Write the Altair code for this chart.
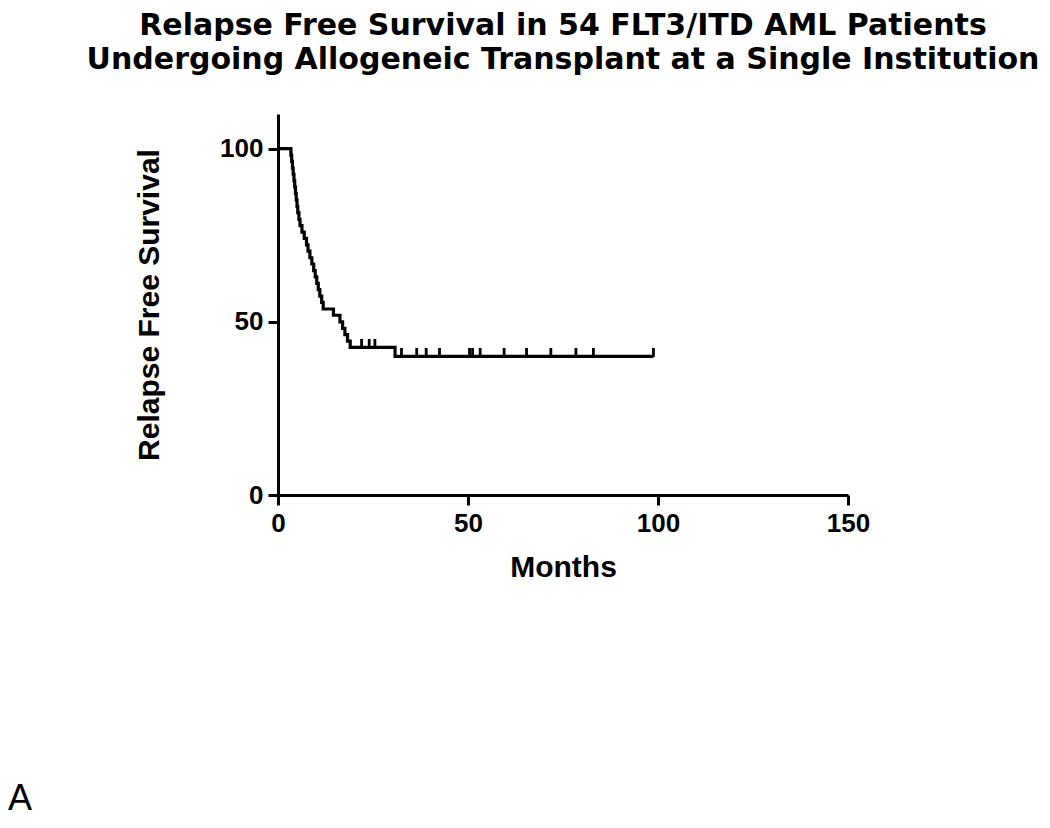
import altair as alt
import pandas as pd

# Kaplan-Meier step curve (months, relapse free survival %)
months = [0, 3.4, 3.6, 3.8, 4.0, 4.2, 4.4, 4.6, 4.8, 5.0, 5.2, 5.5, 5.8, 6.3, 6.9, 7.5,
          7.9, 8.4, 8.9, 9.4, 9.8, 10.2, 10.6, 11.0, 11.5, 11.9, 14.6, 16.3, 17.0, 17.6,
          18.3, 19.0, 30.8, 98.8]
survival = [100, 98.1, 96.3, 94.4, 92.6, 90.7, 88.9, 87.0, 85.2, 83.3, 81.5, 79.6, 77.8,
            75.9, 74.1, 72.2, 70.4, 68.5, 66.7, 64.8, 63.0, 61.1, 59.3, 57.4, 55.6, 53.7,
            51.9, 50.0, 48.1, 46.3, 44.4, 42.6, 40.0, 40.0]

# Censored observations
censor_months = [22, 24, 25.5, 32.5, 36.5, 39, 42.5, 50.4, 51.2, 53.2, 59.5, 65.4,
                 71.8, 78.4, 83, 98.8]
censor_surv = [42.6, 42.6, 42.6, 40, 40, 40, 40, 40, 40, 40, 40, 40, 40, 40, 40, 40]

x_ticks = [0, 50, 100, 150]
y_ticks = [0, 50, 100]
panel_label = ["A"]

curve = pd.DataFrame({"Months": months, "RFS": survival})
cens = pd.DataFrame({"Months": censor_months, "RFS": censor_surv})
lab = pd.DataFrame({"label": panel_label})

x_enc = alt.X("Months:Q", scale=alt.Scale(domain=[0, 150], nice=False),
              axis=alt.Axis(values=x_ticks, title="Months", titlePadding=16, labelPadding=5,
                            labelFlush=False))
y_enc = alt.Y("RFS:Q", scale=alt.Scale(domain=[0, 110], nice=False),
              axis=alt.Axis(values=y_ticks, title="Relapse Free Survival", titlePadding=55,
                            labelPadding=5, labelFlush=False))

line = alt.Chart(curve).mark_line(interpolate="step-after", color="black",
                                  strokeWidth=3.2).encode(x=x_enc, y=y_enc)

ticks = alt.Chart(cens).mark_tick(orient="vertical", color="black", size=9,
                                  thickness=2.8, yOffset=-4, opacity=1).encode(
    x="Months:Q", y="RFS:Q")

a_text = alt.Chart(lab).mark_text(font="Liberation Sans", fontSize=36, color="black",
                                  align="left", baseline="alphabetic").encode(
    x=alt.value(-270), y=alt.value(696), text="label:N")

chart = alt.layer(line, ticks, a_text).properties(
    width=570, height=381,
    autosize=alt.AutoSizeParams(type="none"),
    padding={"left": 270, "top": 106, "right": 190, "bottom": 325},
    title=alt.TitleParams(
        text=["Relapse Free Survival in 54 FLT3/ITD AML Patients",
              "Undergoing Allogeneic Transplant at a Single Institution"],
        font="DejaVu Sans", fontSize=30, fontWeight="bold", color="black",
        anchor="middle", lineHeight=34, offset=39),
).configure_view(stroke=None).configure_axis(
    grid=False,
    domainColor="black", domainWidth=3,
    tickColor="black", tickWidth=3, tickSize=10,
    labelFont="Liberation Sans", labelFontSize=26, labelFontWeight="bold", labelColor="black",
    titleFont="Liberation Sans", titleFontSize=30, titleFontWeight="bold", titleColor="black",
)

chart.save("out.html", embed_options={"renderer": "svg", "actions": False})
